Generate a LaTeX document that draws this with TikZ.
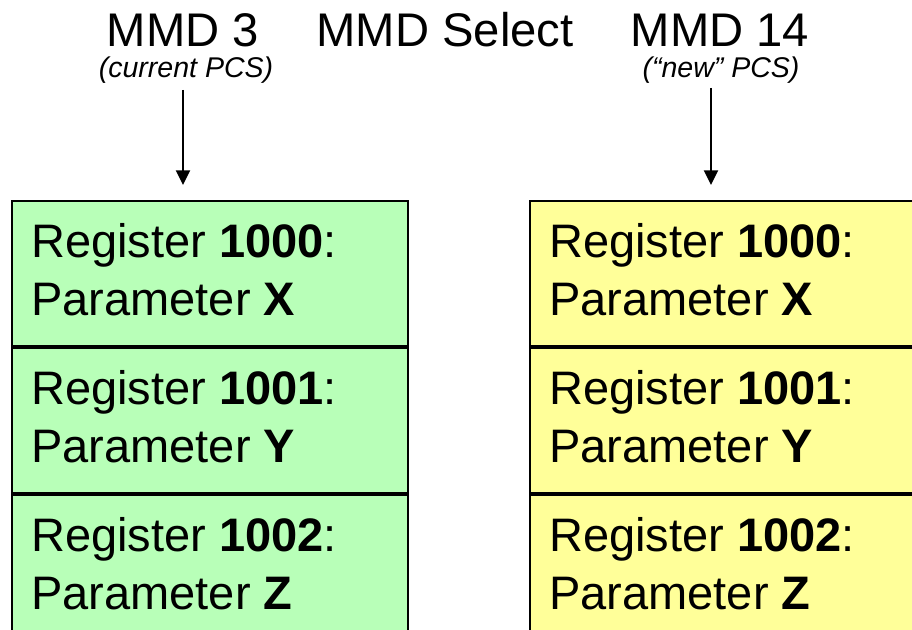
\documentclass[tikz,border=0pt]{standalone}
\usepackage{fontspec}
\setmainfont{Liberation Sans}
\usetikzlibrary{positioning,arrows.meta}

\definecolor{regGreen}{RGB}{184,255,184}
\definecolor{regYellow}{RGB}{255,255,153}

\tikzset{
    regbox/.style={draw, line width=1.5pt, minimum width=297pt, minimum height=108.75pt},
    regtext/.style={anchor=north west, inner sep=0pt, align=left,
        font=\fontsize{35.25}{43.7}\selectfont},
    heading/.style={font=\fontsize{35.4}{40}\selectfont, inner sep=0pt},
    subheading/.style={font=\fontsize{21.4}{25}\selectfont\itshape, inner sep=0pt},
    arrow/.style={line width=1.5pt, -{Triangle[length=11pt,width=10.5pt]}}
}

\begin{document}
\begin{tikzpicture}[x=0.75pt, y=-0.75pt]
                \useasboundingbox (0,0) rectangle (912,630);

                \node[heading, anchor=base] (T3) at (183, 46.5) {MMD 3};
                \node[heading, anchor=base] (TS) at (445, 46.5) {MMD Select};
                \node[heading, anchor=base] (T14) at (720, 46.5) {MMD 14};
                \node[subheading, anchor=base] (S3) at (186, 78) {(current PCS)};
                \node[subheading, anchor=base] (S14) at (721, 78) {(“new” PCS)};

                % current PCS
                \node[regbox, fill=regGreen, anchor=north west] (G1) at (11, 200) {};
                \node[regbox, fill=regGreen, below=0pt of G1] (G2) {};
                \node[regbox, fill=regGreen, below=0pt of G2] (G3) {};

                % new PCS
                \node[regbox, fill=regYellow, anchor=north west] (Y1) at (529, 200) {};
                \node[regbox, fill=regYellow, below=0pt of Y1] (Y2) {};
                \node[regbox, fill=regYellow, below=0pt of Y2] (Y3) {};

                \node[regtext] (LG1) at ([xshift=15pt, yshift=-17.5pt]G1.north west)
                    {Register \textbf{1000}:\\Parameter \textbf{X}};
                \node[regtext] (LG2) at ([xshift=15pt, yshift=-17.5pt]G2.north west)
                    {Register \textbf{1001}:\\Parameter \textbf{Y}};
                \node[regtext] (LG3) at ([xshift=15pt, yshift=-17.5pt]G3.north west)
                    {Register \textbf{1002}:\\Parameter \textbf{Z}};
                \node[regtext] (LY1) at ([xshift=15pt, yshift=-17.5pt]Y1.north west)
                    {Register \textbf{1000}:\\Parameter \textbf{X}};
                \node[regtext] (LY2) at ([xshift=15pt, yshift=-17.5pt]Y2.north west)
                    {Register \textbf{1001}:\\Parameter \textbf{Y}};
                \node[regtext] (LY3) at ([xshift=15pt, yshift=-17.5pt]Y3.north west)
                    {Register \textbf{1002}:\\Parameter \textbf{Z}};

                \coordinate (A3) at (183, 90);
                \coordinate (A14) at (711, 88);

                \draw[arrow, shorten >=11.25pt] (A3) to (A3 |- G1.north);
                \draw[arrow, shorten >=11.25pt] (A14) to (A14 |- Y1.north);
            \end{tikzpicture}
\end{document}
